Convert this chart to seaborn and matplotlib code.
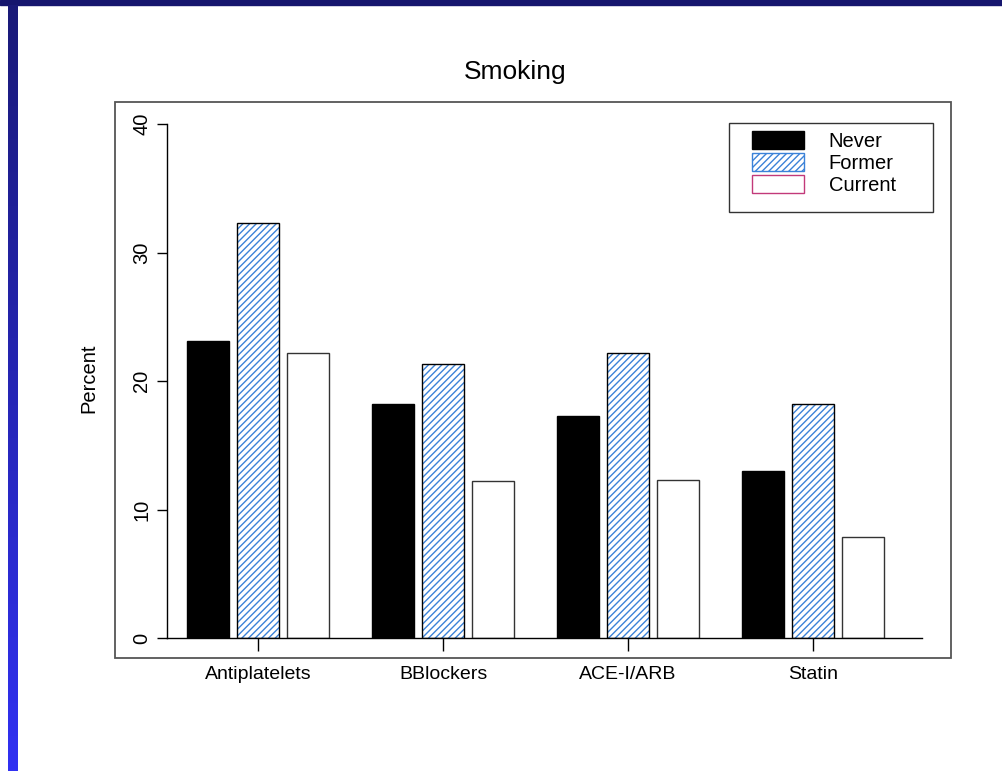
import numpy as np
import pandas as pd
import seaborn as sns
import matplotlib.pyplot as plt
from matplotlib.patches import Patch, Rectangle

# values (percent)
drugs = ['Antiplatelets', 'BBlockers', 'ACE-I/ARB', 'Statin']
smoking = ['Never', 'Former', 'Current']
never = [23.1, 18.2, 17.3, 13.0]
former = [32.3, 21.3, 22.2, 18.2]
current = [22.2, 12.2, 12.3, 7.9]
yticks = [0, 10, 20, 30, 40]

hatch_blue = '#3b82d8'
W, H = 1002, 771


def fx(px):
    return px / W


def fy(py):
    return 1 - py / H


def main():
    sns.set_style('ticks')
    plt.rcParams['font.family'] = ['Liberation Sans', 'DejaVu Sans']
    plt.rcParams['hatch.linewidth'] = 1.0
    for k in ['text.color', 'axes.labelcolor', 'xtick.color', 'ytick.color']:
        plt.rcParams[k] = 'black'

    df = pd.DataFrame({
        'drug': drugs * 3,
        'smoking': [s for s in smoking for _ in drugs],
        'percent': never + former + current,
    })

    fig = plt.figure(figsize=(W / 100, H / 100), dpi=100)
    fig.patch.set_facecolor('white')

    # slide decoration: navy band on top, blue gradient bar on the left
    fig.add_artist(Rectangle((0, fy(5)), 1, 5 / H, transform=fig.transFigure,
                             color='#16166e', zorder=0))
    side = fig.add_axes([fx(8), 0, fx(10), fy(5)])
    grad = np.linspace(0, 1, 256).reshape(-1, 1)
    cmap = sns.blend_palette(['#1a1a78', '#3131f2'], as_cmap=True)
    side.imshow(grad, aspect='auto', cmap=cmap)
    side.set_axis_off()

    # outer frame of the chart
    fig.add_artist(Rectangle((fx(115), fy(658)), fx(951 - 115), (658 - 102) / H,
                             transform=fig.transFigure, fill=False,
                             ec='#555555', lw=1.3))

    ax = fig.add_axes([fx(166.7), fy(638.3), fx(921.7 - 166.7), (638.3 - 123.9) / H])
    ax.patch.set_alpha(0)

    sns.barplot(data=df, x='drug', y='percent', hue='smoking', hue_order=smoking,
                palette=['black', 'white', 'white'], width=0.81, gap=0.16,
                edgecolor='black', linewidth=1, errorbar=None, legend=False, ax=ax)

    never_bars, former_bars, current_bars = ax.containers
    for p in current_bars:
        p.set_edgecolor('#333333')
    for p in former_bars:
        p.set_hatch('/////')
        p.set_edgecolor(hatch_blue)
        p.set_linewidth(0)
        ax.add_patch(Rectangle(p.get_xy(), p.get_width(), p.get_height(),
                               fill=False, ec='black', lw=1, zorder=p.get_zorder() + 0.1))

    ax.set_xlim(-0.4935, 3.587)
    ax.set_ylim(0, 40)
    ax.set_yticks(yticks)
    ax.set_xlabel('')
    ax.set_ylabel('Percent', fontsize=14.5)
    ax.yaxis.set_label_coords(-0.09, 0.506)

    sns.despine(ax=ax)
    for s in ['left', 'bottom']:
        ax.spines[s].set_color('black')
        ax.spines[s].set_linewidth(1)

    ax.tick_params(axis='x', length=9, width=1, pad=11, labelsize=14, color='black')
    ax.tick_params(axis='y', length=7, width=1, pad=4, labelsize=14.5,
                   labelrotation=90, color='black')
    for lbl in ax.get_yticklabels():
        lbl.set_va('center')

    fig.text(fx(515), fy(72), 'Smoking', ha='center', va='center', fontsize=19)

    # legend
    handles = [
        Patch(facecolor='black', edgecolor='black'),
        Patch(facecolor='white', edgecolor=hatch_blue, hatch='/////'),
        Patch(facecolor='white', edgecolor='#c2397a'),
    ]
    fig.legend(handles, smoking, loc='upper left',
               bbox_to_anchor=(fx(752), fy(131)), bbox_transform=fig.transFigure,
               frameon=False, fontsize=14.5, borderpad=0, borderaxespad=0,
               handlelength=2.6, handleheight=1.0, labelspacing=0.1,
               handletextpad=1.2)
    fig.add_artist(Rectangle((fx(729), fy(212)), fx(933 - 729), (212 - 123) / H,
                             transform=fig.transFigure, fill=False,
                             ec='#333333', lw=1))

    fig.savefig('out.png', dpi=100)
    print('wrote')


if __name__ == '__main__':
    main()
